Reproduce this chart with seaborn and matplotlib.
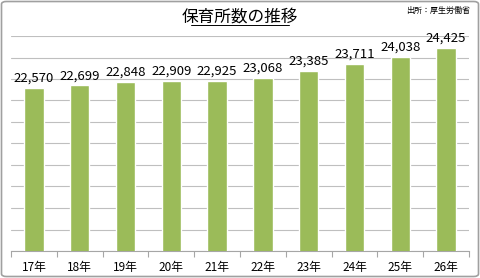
import matplotlib
matplotlib.use("Agg")
import matplotlib.pyplot as plt
import seaborn as sns
import pandas as pd
from matplotlib.patches import FancyBboxPatch

years = ["17年", "18年", "19年", "20年", "21年", "22年", "23年", "24年", "25年", "26年"]
counts = [22570, 22699, 22848, 22909, 22925, 23068, 23385, 23711, 24038, 24425]
title = "保育所数の推移"
source = "出所：厚生労働省"

sns.set_theme(style="white")
plt.rcParams['font.family'] = ['Noto Sans CJK JP', 'DejaVu Sans']

df = pd.DataFrame({"year": years, "count": counts})

fig = plt.figure(figsize=(4.8, 2.78), dpi=100)
ax = fig.add_axes([11/480, 1 - 251/278, 458/480, 215/278])

sns.barplot(data=df, x="year", y="count", color="#9BBB59", saturation=1,
            width=0.42, ax=ax, zorder=3)

ax.set_ylim(15000, 25000)
ax.set_xlim(-0.5, len(years) - 0.5)
ax.set_yticks(range(15000, 25001, 1000))
ax.yaxis.grid(True, color="#BFBFBF", linewidth=0.8, zorder=0)
ax.set_yticklabels([])
ax.tick_params(axis="y", length=0)
ax.set_xlabel("")
ax.set_ylabel("")
for s in ["top", "right", "left"]:
    ax.spines[s].set_visible(False)
ax.spines["bottom"].set_color("#A6A6A6")
ax.spines["bottom"].set_linewidth(0.8)

ax.set_xticks([i - 0.5 for i in range(len(years) + 1)], minor=True)
ax.tick_params(axis="x", which="major", length=0, pad=7, labelsize=8.5, labelcolor="#000000")
ax.tick_params(axis="x", which="minor", length=4, color="#A6A6A6", width=0.8, bottom=True)

for i, v in enumerate(counts):
    ax.text(i, v + 150, f"{v:,}", ha="center", va="bottom", fontsize=9.5,
            color="#000000", zorder=4)

fig.text(240/480, 1 - 17/278, title, ha="center", va="center", fontsize=12,
         color="#000000")
# underline title
fig.add_artist(plt.Line2D([191/480, 289/480], [1 - 25/278, 1 - 25/278],
                          color="#000000", linewidth=0.7))
fig.text(470/480, 1 - 10/278, source, ha="right", va="center", fontsize=5.8,
         color="#000000")

border = FancyBboxPatch((1.5/480, 1.5/278), 477/480, 275/278,
                        boxstyle="round,pad=0,rounding_size=0.01",
                        transform=fig.transFigure, fill=False,
                        edgecolor="#A0A0A0", linewidth=1.2)
fig.add_artist(border)

fig.savefig("out.png", dpi=100)
